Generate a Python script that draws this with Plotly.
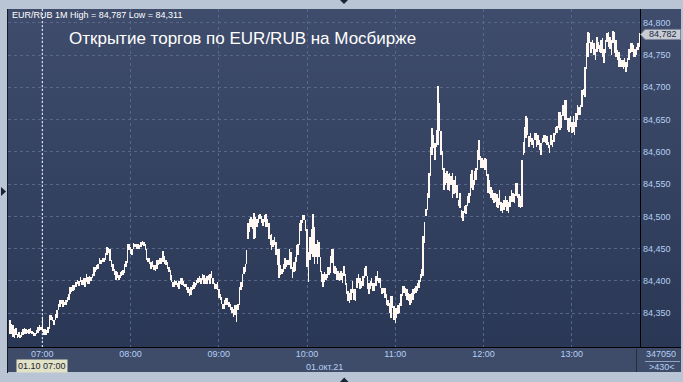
import base64
import pandas as pd
import plotly.graph_objects as go

# ---- data -------------------------------------------------------------
SYMBOL = "EUR/RUB"
TIMEFRAME = "1M"
TITLE = "Открытие торгов по EUR/RUB на Мосбирже"
SESSION_START = "2021-10-01 06:38"
CURSOR_TIME = "2021-10-01 07:00"
CURSOR_LABEL = "01.10 07:00"
DATE_LABEL = "01.окт.21"
VOLUME_LABEL = "347050"
BARS_LABEL = ">430<"
LAST_PRICE = 84.782

# 1-minute bar lows / highs, in thousandths of a rouble above BASE
BASE = 84.300
low_pts = [
    18, 17, 13, 11, 16, 11, 13, 11, 13, 16,
    18, 17, 19, 18, 19, 17, 14, 14, 18, 19,
    22, 24, 21, 16, 16, 16, 19, 26, 39, 38,
    31, 40, 42, 55, 60, 64, 60, 62, 62, 68,
    71, 80, 83, 85, 86, 91, 95, 92, 99, 94,
    94, 91, 99, 96, 96, 100, 104, 107, 114, 117,
    119, 126, 127, 130, 130, 132, 140, 143, 131, 122,
    116, 109, 102, 104, 102, 105, 107, 109, 113, 122,
    128, 148, 142, 140, 149, 153, 150, 150, 149, 153,
    156, 154, 148, 133, 130, 127, 119, 122, 117, 116,
    119, 125, 127, 126, 130, 127, 125, 119,
    114, 101, 98, 90, 91, 93, 91, 88, 96, 93,
    92, 91, 86, 81, 76, 78, 86, 88, 91, 93,
    97, 98, 96, 101, 95, 95, 95, 101, 96, 104,
    95, 88, 88, 86, 73, 70, 65, 56, 57, 62,
    62, 59, 55, 50, 44, 47, 37, 55, 62, 86,
    91, 111, 114, 127, 165, 176, 183, 181, 165, 167,
    183, 189, 196, 189, 185, 191, 183, 183, 165, 155,
    148, 153, 155, 140, 124, 105, 109, 110, 114, 119,
    122, 124, 124, 119, 105, 114, 116, 129, 140, 155,
    178, 189, 194, 178, 122, 98, 132, 142, 137, 127,
    137, 127, 137, 114, 98, 91, 98, 101, 104, 109,
    112, 128, 112, 110, 102, 102, 100, 102, 97, 107,
    94, 79, 69, 66, 71, 81, 71, 69, 89, 97,
    87, 89, 92, 105, 107, 87, 79, 87, 92, 84,
    84, 92, 100, 97, 89, 79, 81, 74, 63, 61,
    51, 43, 58, 40, 35, 43, 48, 51, 61, 76,
    81, 76, 71, 69, 63, 66, 71, 79, 81, 84,
    89, 99, 105, 107, 159, 200, 210, 228, 262, 295,
    306, 288, 308, 311, 332, 295, 272, 241, 249, 252,
    241, 239, 249, 228, 234, 236, 228, 216, 213, 197,
    193, 205, 203, 216, 221, 231, 244, 241, 249, 257,
    272, 288, 275, 275, 275, 272, 262, 237, 234,
    228, 226, 221, 223, 215, 213, 218, 208, 205, 210,
    215, 208, 205, 215, 223, 223, 221, 231, 228, 215,
    213, 215, 295, 298, 321, 326, 308, 316, 311, 306,
    319, 308, 311, 303, 295, 313, 316, 313, 311, 306,
    298, 311, 308, 316, 326, 329, 337, 334, 337, 355,
    349, 349, 334, 331, 339, 329, 331, 326, 339, 349,
    357, 357, 370, 388, 385, 429, 447, 468, 453, 460,
    450, 442, 455, 460, 455, 453, 447, 437, 453, 471,
    463, 460, 450, 468, 453, 447, 442, 432, 432, 432,
    429, 432, 424, 432, 442, 453, 455, 447, 447, 450,
    458, 463,
]
high_pts = [
    40, 33, 31, 25, 27, 18, 21, 16, 21, 26,
    27, 25, 24, 26, 27, 22, 21, 19, 24, 28,
    31, 29, 44, 26, 26, 24, 28, 47, 47, 44,
    40, 48, 55, 65, 71, 70, 70, 68, 71, 75,
    80, 90, 90, 94, 94, 99, 101, 100, 106, 101,
    104, 105, 111, 106, 107, 106, 111, 122, 122, 125,
    127, 135, 133, 135, 135, 144, 153, 151, 149, 133,
    127, 118, 116, 114, 109, 114, 116, 117, 127, 131,
    158, 157, 153, 150, 159, 158, 157, 158, 155, 161,
    162, 161, 157, 150, 136, 135, 130, 131, 125, 125,
    132, 132, 135, 135, 147, 138, 132, 130,
    122, 117, 109, 98, 101, 100, 97, 100, 104, 105,
    100, 96, 96, 91, 88, 91, 93, 98, 97, 101,
    105, 107, 105, 111, 109, 105, 107, 109, 110, 115,
    105, 97, 96, 98, 88, 80, 75, 65, 70, 73,
    73, 67, 65, 60, 57, 62, 62, 65, 90, 98,
    111, 122, 127, 148, 189, 196, 199, 196, 205, 199,
    196, 202, 203, 200, 196, 202, 203, 196, 189, 171,
    173, 163, 168, 160, 150, 150, 124, 119, 126, 135,
    132, 133, 150, 145, 122, 129, 137, 155, 158, 189,
    194, 202, 202, 195, 181, 145, 168, 181, 203, 184,
    158, 163, 160, 137, 116, 111, 114, 111, 122, 122,
    138, 149, 149, 123, 120, 115, 112, 115, 112, 123,
    110, 97, 84, 81, 87, 100, 87, 87, 105, 110,
    105, 100, 107, 120, 123, 107, 97, 100, 105, 97,
    97, 107, 115, 105, 105, 89, 89, 89, 79, 71,
    66, 76, 76, 61, 58, 58, 63, 66, 79, 92,
    92, 89, 87, 81, 79, 81, 87, 89, 92, 97,
    102, 110, 118, 169, 192, 211, 236, 267, 308, 337,
    326, 313, 334, 402, 375, 332, 301, 275, 267, 270,
    265, 267, 262, 267, 257, 262, 249, 226, 236, 210,
    208, 216, 218, 231, 236, 265, 272, 257, 270, 275,
    303, 319, 293, 290, 288, 290, 289, 265, 257,
    246, 241, 236, 236, 234, 228, 241, 223, 221, 226,
    231, 226, 223, 231, 241, 236, 234, 252, 252, 234,
    231, 288, 316, 339, 355, 352, 324, 329, 321, 319,
    329, 330, 326, 319, 313, 321, 326, 326, 324, 316,
    311, 326, 319, 329, 339, 340, 362, 362, 357, 373,
    380, 381, 352, 352, 355, 347, 355, 347, 360, 373,
    370, 373, 396, 398, 432, 468, 486, 484, 471, 473,
    468, 460, 478, 471, 465, 473, 476, 460, 473, 484,
    486, 478, 473, 487, 486, 473, 458, 455, 445, 442,
    442, 445, 440, 445, 460, 468, 468, 465, 460, 463,
    468, 484,
]
assert len(low_pts) == len(high_pts)

PRICE_TICKS = [84.35, 84.40, 84.45, 84.50, 84.55, 84.60, 84.65, 84.70, 84.75, 84.80]
HOUR_TICKS = ["07:00", "08:00", "09:00", "10:00", "11:00", "12:00", "13:00"]

# ---- derived series -------------------------------------------------------
times = pd.date_range(SESSION_START, periods=len(low_pts), freq="min")
lows = [BASE + v / 1000 for v in low_pts]
highs = [BASE + v / 1000 for v in high_pts]
spans = [h - l for h, l in zip(highs, lows)]
hour_times = [pd.Timestamp(f"2021-10-01 {h}") for h in HOUR_TICKS]


def ru_price(p):
    return f"{p:.3f}".replace(".", ",")


header = (f"{SYMBOL} {TIMEFRAME} High = {ru_price(max(highs))} "
          f"Low = {ru_price(min(lows))}")

# ---- geometry of the terminal window (pixels) ------------------------------
W, H = 683, 382
L, R, T, B = 8, 640, 9, 347          # plot rectangle
PW, PH = R - L, B - T


def px(x):
    return (x - L) / PW


def py(y):
    return (B - y) / PH


X_RANGE = [pd.Timestamp("2021-10-01 06:36:41"), pd.Timestamp("2021-10-01 13:46:23")]
Y_RANGE = [84.2976, 84.8214]

GRID = "#56678a"
AXIS_TXT = "#b4d0f2"
FONT = "Liberation Sans, Arial, sans-serif"

fig = go.Figure()
fig.add_trace(go.Bar(
    x=times, base=lows, y=spans, width=20000,
    marker=dict(color="#fff8f2", line=dict(width=0)),
    hoverinfo="skip",
))

# navy gradient behind the price pane and price scale
svg = ('<svg xmlns="http://www.w3.org/2000/svg" width="10" height="100" '
       'viewBox="0 0 10 100" preserveAspectRatio="none">'
       '<defs><linearGradient id="g" x1="0" y1="0" x2="0" y2="1">'
       '<stop offset="0" stop-color="#3f4c6c"/>'
       '<stop offset="1" stop-color="#2a3856"/>'
       '</linearGradient></defs>'
       '<rect width="10" height="100" fill="url(#g)"/></svg>')
bg_uri = "data:image/svg+xml;base64," + base64.b64encode(svg.encode()).decode()

shapes = [
    # time-scale strip
    dict(type="rect", xref="paper", yref="paper", x0=px(L), x1=px(681),
         y0=py(372), y1=py(B), fillcolor="#3e4b69", line=dict(width=0), layer="below"),
    # pane borders
    dict(type="line", xref="paper", yref="paper", x0=px(R + 0.5), x1=px(R + 0.5),
         y0=py(T), y1=py(B), line=dict(color="#000000", width=1)),
    dict(type="line", xref="paper", yref="paper", x0=px(L), x1=px(681),
         y0=py(B + 0.5), y1=py(B + 0.5), line=dict(color="#000000", width=1)),
    dict(type="line", xref="paper", yref="paper", x0=px(L - 0.5), x1=px(L - 0.5),
         y0=py(T), y1=py(373), line=dict(color="#151a26", width=1)),
    dict(type="line", xref="paper", yref="paper", x0=px(636.5), x1=px(636.5),
         y0=py(349), y1=py(372), line=dict(color="#232b3d", width=1)),
    dict(type="line", xref="paper", yref="paper", x0=px(645), x1=px(680),
         y0=py(361.5), y1=py(361.5), line=dict(color="#8ea4c4", width=1)),
    # crosshair at the session open
    dict(type="line", xref="x", yref="paper", x0=CURSOR_TIME, x1=CURSOR_TIME,
         y0=0, y1=1, line=dict(color="#ffffff", width=1, dash="2px,2px")),
    # last price marker on the price scale
    dict(type="path", xref="paper", yref="y",
         path=(f"M {px(640.5)},{LAST_PRICE} L {px(645)},{LAST_PRICE + 0.0078} "
               f"L {px(680.5)},{LAST_PRICE + 0.0078} L {px(680.5)},{LAST_PRICE - 0.0078} "
               f"L {px(645)},{LAST_PRICE - 0.0078} Z"),
         fillcolor="#c7cbd3", line=dict(color="#7d889e", width=1)),
    # scroll arrows
    dict(type="path", xref="paper", yref="paper",
         path=f"M {px(340)},{py(0)} L {px(348)},{py(0)} L {px(344)},{py(4)} Z",
         fillcolor="#1b2232", line=dict(width=0)),
    dict(type="path", xref="paper", yref="paper",
         path=f"M {px(1)},{py(187)} L {px(6)},{py(191.5)} L {px(1)},{py(196)} Z",
         fillcolor="#1b2232", line=dict(width=0)),
    dict(type="path", xref="paper", yref="paper",
         path=f"M {px(340)},{py(382)} L {px(348.5)},{py(382)} L {px(344.2)},{py(377.5)} Z",
         fillcolor="#1b2232", line=dict(width=0)),
]

annotations = [
    dict(text=header, xref="paper", yref="paper", x=px(10), y=py(15),
         xanchor="left", yanchor="middle", showarrow=False,
         font=dict(family=FONT, size=9, color="#ffffff")),
    dict(text=TITLE, xref="paper", yref="paper", x=px(67), y=py(38),
         xanchor="left", yanchor="middle", showarrow=False,
         font=dict(family=FONT, size=17, color="#ffffff")),
    dict(text=ru_price(LAST_PRICE), xref="paper", yref="y", x=px(662.5), y=LAST_PRICE,
         xanchor="center", yanchor="middle", showarrow=False,
         font=dict(family=FONT, size=9, color="#1d2840")),
    dict(text=CURSOR_LABEL, xref="x", yref="paper", x=CURSOR_TIME, y=py(366),
         xanchor="center", yanchor="middle", showarrow=False, bgcolor="#e2e2c6",
         borderpad=1, font=dict(family=FONT, size=9, color="#1a2233")),
    dict(text=DATE_LABEL, xref="paper", yref="paper", x=px(324), y=py(366.5),
         xanchor="center", yanchor="middle", showarrow=False,
         font=dict(family=FONT, size=9, color=AXIS_TXT)),
    dict(text=VOLUME_LABEL, xref="paper", yref="paper", x=px(660.5), y=py(353.5),
         xanchor="center", yanchor="middle", showarrow=False,
         font=dict(family=FONT, size=9, color=AXIS_TXT)),
    dict(text=BARS_LABEL, xref="paper", yref="paper", x=px(661.5), y=py(367),
         xanchor="center", yanchor="middle", showarrow=False,
         font=dict(family=FONT, size=9, color=AXIS_TXT)),
]

fig.update_layout(
    width=W, height=H,
    margin=dict(l=L, r=W - R, t=T, b=H - B, pad=0),
    paper_bgcolor="#b9c5d4",
    plot_bgcolor="rgba(0,0,0,0)",
    showlegend=False,
    separators=", ",
    bargap=0,
    font=dict(family=FONT, size=9, color=AXIS_TXT),
    images=[dict(source=bg_uri, xref="paper", yref="paper", x=0, y=1,
                 sizex=px(681), sizey=1, xanchor="left", yanchor="top",
                 sizing="stretch", layer="below")],
    shapes=shapes,
    annotations=annotations,
    xaxis=dict(
        type="date", range=X_RANGE, tickmode="array",
        tickvals=hour_times, ticktext=HOUR_TICKS,
        showgrid=True, gridcolor=GRID, gridwidth=1, griddash="3px,3px",
        zeroline=False, showline=False, ticks="",
        tickfont=dict(family=FONT, size=9, color=AXIS_TXT),
        fixedrange=True,
    ),
    yaxis=dict(
        side="right", range=Y_RANGE, tickmode="array", tickvals=PRICE_TICKS,
        tickformat=".3f",
        showgrid=True, gridcolor=GRID, gridwidth=1, griddash="3px,3px",
        zeroline=False, showline=False, ticks="", ticklabelstandoff=2,
        tickfont=dict(family=FONT, size=9, color=AXIS_TXT),
        fixedrange=True,
    ),
)

fig.write_html("out.html", config={"displayModeBar": False})
